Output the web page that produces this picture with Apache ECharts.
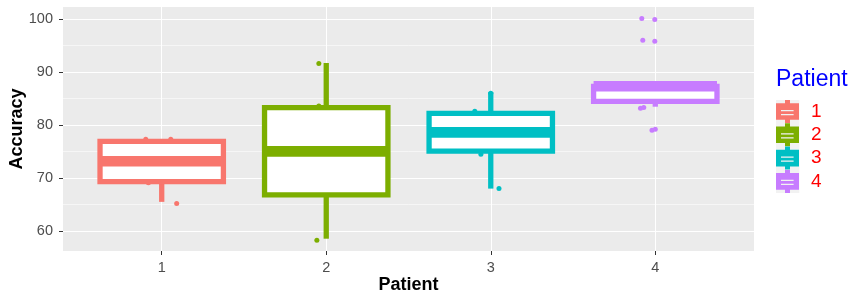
<!DOCTYPE html>
<html><head><meta charset="utf-8">
<script src="https://cdn.jsdelivr.net/npm/echarts@6/dist/echarts.min.js"></script>
<style>html,body{margin:0;padding:0;background:#fff}#c{width:866px;height:304px}</style>
</head><body><div id="c"></div>
<script>
// ---- data ----
const PATIENTS = ['1', '2', '3', '4'];
const COLORS = ['#F8766D', '#7CAE00', '#00BFC4', '#C77CFF'];
const Y_TICKS = [60, 70, 80, 90, 100];
const Y_MINOR = [65, 75, 85, 95];
const X_TICKS = [1, 2, 3, 4];
// box stats: [x, lower whisker, Q1, median, Q3, upper whisker]
const BOX_1 = [1, 65.5, 69.3, 73.15, 76.9, 76.9];
const BOX_2 = [2, 58.55, 66.8, 75.03, 83.27, 91.7];
const BOX_3 = [3, 68.0, 75.06, 78.6, 82.2, 86.2];
const BOX_4 = [4, 83.45, 84.47, 87.3, 87.3, 87.3];
// jittered observations [x, accuracy]
const POINTS_1 = [[0.903, 77.3], [0.927, 76.5], [1.055, 77.3], [0.919, 69.1], [1.091, 65.2]];
const POINTS_2 = [[1.955, 91.6], [1.955, 83.6], [2.04, 83.1], [2.07, 67.2], [1.943, 58.25]];
const POINTS_3 = [[2.903, 82.6], [3.09, 81.8], [2.94, 74.5], [3.05, 68.0], [3.0, 86.0]];
const POINTS_4 = [[3.918, 100.1], [3.997, 99.9], [3.924, 96.0], [3.997, 95.8], [3.91, 83.15], [3.93, 83.3], [3.98, 79.0], [4.0, 79.2]];

const BOXES = [BOX_1, BOX_2, BOX_3, BOX_4];
const POINTS = [POINTS_1, POINTS_2, POINTS_3, POINTS_4];

// ---- style ----
const FONT = "'Liberation Sans', Arial, sans-serif";
const BOX_W = 0.75;
const LW = 5.3;
const Y_MIN = 56.23, Y_MAX = 102.26;
const X_MIN = 0.4, X_MAX = 4.6;

function renderBox(params, api) {
  const x = api.value(0);
  const lo = api.value(1), q1 = api.value(2), med = api.value(3), q3 = api.value(4), hi = api.value(5);
  const color = api.visual('color');
  const half = api.size([BOX_W, 0])[0] / 2;
  const pLo = api.coord([x, lo]), pQ1 = api.coord([x, q1]), pMed = api.coord([x, med]);
  const pQ3 = api.coord([x, q3]), pHi = api.coord([x, hi]);
  const cx = pMed[0];
  const children = [];
  if (hi > q3) children.push({type: 'line', shape: {x1: cx, y1: pQ3[1], x2: cx, y2: pHi[1]},
    style: {stroke: color, lineWidth: LW, lineCap: 'butt'}});
  if (lo < q1) children.push({type: 'line', shape: {x1: cx, y1: pQ1[1], x2: cx, y2: pLo[1]},
    style: {stroke: color, lineWidth: LW, lineCap: 'butt'}});
  children.push({type: 'rect', shape: {x: cx - half, y: pQ3[1], width: 2 * half, height: pQ1[1] - pQ3[1]},
    style: {fill: '#FFFFFF', stroke: color, lineWidth: LW, lineJoin: 'miter'}});
  children.push({type: 'line', shape: {x1: cx - half, y1: pMed[1], x2: cx + half, y2: pMed[1]},
    style: {stroke: color, lineWidth: LW * 2, lineCap: 'butt'}});
  return {type: 'group', children: children};
}

const KEY_ICON = 'path://M0 3.2L9 3.2L9 0L14 0L14 3.2L23 3.2L23 19.8L14 19.8L14 23L9 23L9 19.8L0 19.8Z' +
  'M5 9.9L5 11.2L17.6 11.2L17.6 9.9Z' +
  'M5 13.9L5 15.2L17.6 15.2L17.6 13.9Z';

const series = [];
PATIENTS.forEach((p, i) => {
  series.push({
    name: p, type: 'scatter', data: POINTS[i], symbolSize: 5,
    itemStyle: {color: COLORS[i], opacity: 1}, z: 2, silent: true
  });
});
PATIENTS.forEach((p, i) => {
  series.push({
    name: p, type: 'custom', renderItem: renderBox, data: [BOXES[i]],
    itemStyle: {color: COLORS[i]}, z: 3, silent: true,
    encode: {x: 0, y: [1, 2, 3, 4, 5]}
  });
});

const chart = echarts.init(document.getElementById('c'), null, {renderer: 'canvas'});
chart.setOption({
  animation: false,
  backgroundColor: '#FFFFFF',
  textStyle: {fontFamily: FONT},
  grid: {left: 63, right: 112, top: 7, bottom: 53, show: true, backgroundColor: '#EBEBEB', borderWidth: 0,
    containLabel: false, outerBoundsMode: 'none'},
  title: {
    text: 'Patient', left: 776, top: 68, padding: 0,
    textStyle: {color: '#0000FF', fontSize: 23, fontWeight: 'normal', fontFamily: FONT}
  },
  legend: {
    orient: 'vertical', left: 776, top: 100, padding: 0,
    itemWidth: 23, itemHeight: 23, itemGap: 0.3, selectedMode: false,
    itemStyle: {borderWidth: 0},
    data: PATIENTS.map((p, i) => ({name: p, icon: KEY_ICON, itemStyle: {color: COLORS[i], borderWidth: 0}})),
    textStyle: {color: '#FF0000', fontSize: 19, fontFamily: FONT, padding: [0, 0, 0, 7]}
  },
  graphic: [{
    type: 'rect', left: 776, top: 100, z: -1, silent: true,
    shape: {width: 23.3, height: 93}, style: {fill: '#F2F2F2'}
  }],
  xAxis: [{
    type: 'value', min: X_MIN, max: X_MAX,
    name: 'Patient', nameLocation: 'middle', nameGap: 25, nameMoveOverlap: false,
    nameTextStyle: {color: '#000000', fontSize: 18, fontWeight: 'bold', fontFamily: FONT},
    axisLine: {show: false},
    axisTick: {show: true, length: 4, lineStyle: {color: '#333333', width: 1}, customValues: X_TICKS},
    axisLabel: {color: '#4D4D4D', fontSize: 14.5, margin: 9, customValues: X_TICKS, fontFamily: FONT},
    splitLine: {show: true, lineStyle: {color: '#FFFFFF', width: 1.1}}
  }],
  yAxis: [{
    type: 'value', min: Y_MIN, max: Y_MAX,
    name: 'Accuracy', nameLocation: 'middle', nameGap: 37, nameRotate: 90, nameMoveOverlap: false,
    nameTextStyle: {color: '#000000', fontSize: 18, fontWeight: 'bold', fontFamily: FONT},
    axisLine: {show: false},
    axisTick: {show: true, length: 4, lineStyle: {color: '#333333', width: 1}, customValues: Y_TICKS},
    axisLabel: {color: '#4D4D4D', fontSize: 14.5, margin: 10, customValues: Y_TICKS, fontFamily: FONT},
    splitLine: {show: true, lineStyle: {color: '#FFFFFF', width: 1.1}},
    z: 1
  }, {
    type: 'value', min: Y_MIN, max: Y_MAX, position: 'left',
    axisLine: {show: false}, axisTick: {show: false, customValues: Y_MINOR},
    axisLabel: {show: false, customValues: Y_MINOR},
    splitLine: {show: true, lineStyle: {color: '#FFFFFF', width: 0.55}},
    z: 0
  }],
  series: series
});
</script>
</body></html>
